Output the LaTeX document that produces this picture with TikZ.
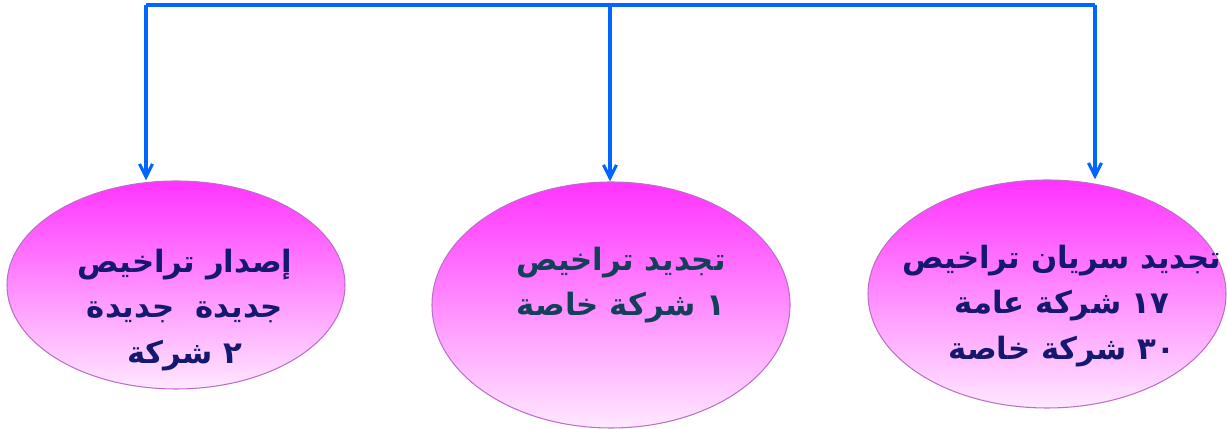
\documentclass[tikz,border=0pt]{standalone}
\usepackage{fontspec}
\newfontfamily\arabicfont[Script=Arabic]{DejaVu Sans}
\TeXXeTstate=1
\definecolor{arblue}{RGB}{0,102,255}
\definecolor{armagenta}{RGB}{255,51,255}
\definecolor{armid}{RGB}{255,140,255}
\definecolor{arpink}{RGB}{255,232,255}
\definecolor{arborder}{RGB}{190,110,200}
\definecolor{arnavy}{RGB}{20,24,110}
\definecolor{arteal}{RGB}{18,64,90}
\usetikzlibrary{arrows.meta,positioning,shapes.geometric}

\begin{document}
\begin{tikzpicture}[
  permit/.style={ellipse,draw=arborder,line width=0.6pt,top color=armagenta,bottom color=arpink,
    middle color=armid,inner sep=0pt},
  caption/.style={font=\arabicfont\bfseries\fontsize{17.5}{26}\selectfont,align=center},
  bus/.style={draw=arblue,line width=2.3pt},
  link/.style={draw=arblue,line width=1.8pt,-{Straight Barb[length=2.6mm,width=2.6mm]}}
]
  \useasboundingbox (0,0) rectangle (24.54,8.58);

  % Ellipses
  \node[permit,minimum width=6.76cm,minimum height=4.16cm] (c1) at (3.52,2.88) {};
  \node[caption,text=arnavy] (t1) at (3.70,2.38)
    {\beginR إصدار تراخيص\endR\\\beginR جديدة\ \ جديدة\endR\\\beginR ٢ شركة\endR};

  \node[permit,minimum width=7.16cm,minimum height=4.92cm] (c2) at (12.22,2.48) {};
  \node[caption,text=arteal] (t2) at (12.42,2.88)
    {\beginR تجديد تراخيص\endR\\\beginR ١ شركة خاصة\endR};

  \node[permit,minimum width=7.16cm,minimum height=4.56cm] (c3) at (20.94,2.70) {};
  \node[caption,text=arnavy] (t3) at (21.24,2.46)
    {\beginR تجديد سريان تراخيص\endR\\\beginR ١٧ شركة عامة\endR\\\beginR ٣٠ شركة خاصة\endR};

  % Connectors
  \coordinate (busL) at (2.92,8.48);
  \coordinate (busM) at (12.20,8.48);
  \coordinate (busR) at (21.90,8.48);
  \draw[bus] (busL) -- (busR);
  \draw[link] (busL) -- (busL |- c1.north);
  \draw[link] (busM) -- (busM |- c2.north);
  \draw[link] (busR) -- (busR |- c3.north);
\end{tikzpicture}
\end{document}
